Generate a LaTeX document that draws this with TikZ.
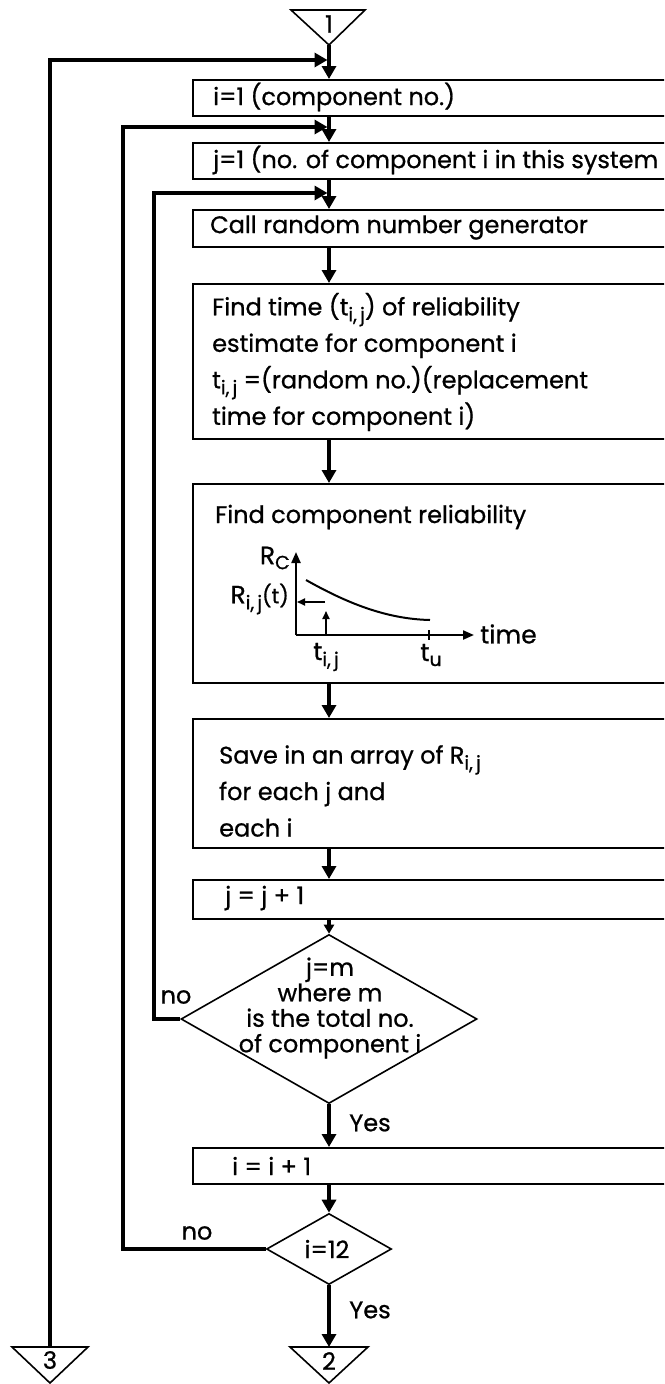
\documentclass[tikz,border=0pt]{standalone}
\usepackage{fontspec}
\setmainfont{Poppins}[FakeBold=0.8]
\usetikzlibrary{arrows.meta,shapes.geometric,calc}
\newcommand\sbs[1]{\raisebox{-6pt}{\fontsize{19}{19}\selectfont #1}}
\begin{document}
\begin{tikzpicture}[x=1pt,y=-1pt,
  flow/.style={line width=3.4pt,-{Triangle[length=13pt,width=14pt]}},
  boxnode/.style={draw,line width=1.7pt,rectangle,anchor=north west,minimum width=540pt,inner sep=0pt},
  txt/.style={anchor=west,inner sep=0pt,font=\fontsize{24}{36.5}\selectfont,align=left},
  dtxt/.style={inner sep=0pt,font=\fontsize{24}{25.5}\selectfont,align=center},
  lbl/.style={inner sep=0pt,font=\fontsize{24}{24}\selectfont},
  glbl/.style={inner sep=0pt,font=\fontsize{25}{25}\selectfont},
  dia/.style={draw,diamond,line width=1.6pt,inner sep=0pt},
  axis/.style={line width=2.2pt,-{Triangle[length=11pt,width=9pt]}},
  small/.style={line width=1.7pt,-{Triangle[length=8pt,width=7pt]}},
  conn/.style={draw,line width=1.6pt,line join=miter}]
\useasboundingbox (0,0) rectangle (664,1384);
\clip (0,0) rectangle (664,1384);
\fill[white] (0,0) rectangle (664,1384);
\coordinate (T) at (329,0);
% connectors (off-page triangles)
\draw[conn] (291,10) -- (365,10) -- (329,45) -- cycle;
\node[lbl] (c1t) at (329,24) {1};
\coordinate (c1) at (329,45);
\draw[conn] (12,1347) -- (88,1347) -- (50,1383) -- cycle;
\node[lbl] (c3t) at (50,1360) {3};
\coordinate (c3) at (50,1347);
\draw[conn] (290,1347) -- (368,1347) -- (329,1383) -- cycle;
\node[lbl] (c2t) at (329,1361) {2};
\coordinate (c2) at (329,1347);
% boxes
\node[boxnode,minimum height=36pt] (b1) at (192,79) {};
\node[txt] (b1t) at (213,97) {i=1 (component no.)};
\node[boxnode,minimum height=36pt] (b2) at (192,142) {};
\node[txt] (b2t) at (213,160) {j=1 (no. of component i in this system};
\node[boxnode,minimum height=37pt] (b3) at (192,209) {};
\node[txt] (b3t) at (210,227.5) {Call random number generator};
\node[boxnode,minimum height=155pt] (b4) at (192,283) {};
\node[txt] (b4t) at (212,362) {Find time (t\sbs{i,\,j}) of reliability\\estimate for component i\\t\sbs{i,\,j} =(random no.)(replacement\\time for component i)};
\node[boxnode,minimum height=199pt] (b5) at (192,483) {};
\node[txt] (b5t) at (215,517) {Find component reliability};
\node[boxnode,minimum height=129pt] (b6) at (192,718) {};
\node[txt] (b6t) at (219,791) {Save in an array of R\sbs{i,\,j}\\for each j and\\each i};
\node[boxnode,minimum height=39pt] (b7) at (192,879) {};
\node[txt] (b7t) at (225,898) {j = j + 1};
\node[dia,minimum width=296pt,minimum height=169pt] (d1) at (329,1019) {};
\node[dtxt] (d1t) at (330,1008) {j=m\\where m\\is the total no.\\of component i};
\node[boxnode,minimum height=36pt] (b8) at (192,1147) {};
\node[txt] (b8t) at (232,1166) {i = i + 1};
\node[dia,minimum width=125pt,minimum height=71pt] (d2) at (329,1249) {};
\node[lbl] (d2t) at (327,1249) {i=12};
% graph inside b5
\coordinate (O) at (296,635);
\coordinate (Ytop) at (296,552);
\coordinate (Xend) at (474,635);
\draw[axis] (O) -- (Ytop);
\draw[axis] (O) -- (Xend);
\draw[line width=2pt] (306,580) .. controls (345,602) and (385,619) .. (430,620);
\coordinate (tu) at (429,635);
\draw[line width=1.7pt] ($(tu)+(0,-5)$) -- ($(tu)+(0,5)$);
\coordinate (tij) at (326,635);
\coordinate (tijtop) at (326,611);
\draw[small] (tij) -- (tijtop);
\coordinate (hstart) at (325,602);
\coordinate (hend) at (297,602);
\draw[small] (hstart) -- (hend);
\node[glbl,anchor=east] (rc) at (290,558) {R\raisebox{-5pt}{\fontsize{19}{19}\selectfont C}};
\node[glbl,anchor=east] (rij) at (289,599) {R\sbs{i,\,j}{\fontsize{21}{21}\selectfont(t)}};
\node[glbl] (tijl) at (326,657) {t\sbs{i,\,j}};
\node[glbl] (tul) at (431,655) {t\raisebox{-5pt}{\fontsize{19}{19}\selectfont u}};
\node[glbl,anchor=west] (timel) at (480,634) {time};
% main flow
\draw[flow] (c1) -- (b1.north -| T);
\draw[flow] (b1.south -| T) -- (b2.north -| T);
\draw[flow] (b2.south -| T) -- (b3.north -| T);
\draw[flow] (b3.south -| T) -- (b4.north -| T);
\draw[flow] (b4.south -| T) -- (b5.north -| T);
\draw[flow] (b5.south -| T) -- (b6.north -| T);
\draw[flow] (b6.south -| T) -- (b7.north -| T);
\draw[flow,-{Triangle[length=9pt,width=10pt]}] (b7.south -| d1.north) -- (d1.north);
\draw[flow] (d1.south) -- (b8.north -| d1.south);
\draw[flow] (b8.south -| d2.north) -- (d2.north);
\draw[flow] (d2.south) -- (c2);
% loops
\coordinate (m1) at (327.5,60);
\coordinate (k2) at (123,127);
\coordinate (m2) at (327.5,127);
\coordinate (k3) at (154,193);
\coordinate (m3) at (327.5,193);
\draw[flow] (c3) |- (m1);
\draw[flow] (d2.west) -| (k2) -- (m2);
\draw[flow] (d1.west) -| (k3) -- (m3);
% labels
\node[lbl] (no1) at (176,997) {no};
\node[lbl] (no2) at (197,1233) {no};
\node[lbl] (yes1) at (370,1123) {Yes};
\node[lbl] (yes2) at (370,1310) {Yes};
\end{tikzpicture}
\end{document}
